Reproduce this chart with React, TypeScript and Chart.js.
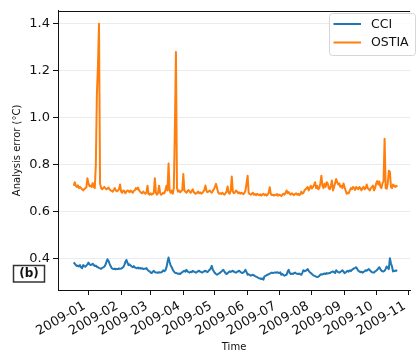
import React, { useEffect, useRef } from 'react';
import { Chart, registerables } from 'chart.js';

Chart.register(...registerables);

// Day offsets relative to 2009-01-01; first sample is 2008-12-18
const FIRST_DAY = -14;

const cciValues = [
  0.384, 0.378, 0.372, 0.368, 0.37, 0.366, 0.372, 0.362, 0.359, 0.372,
  0.368, 0.365, 0.37, 0.375, 0.383, 0.376, 0.372, 0.374, 0.378, 0.372,
  0.368, 0.37, 0.365, 0.363, 0.36, 0.358, 0.356, 0.36, 0.362, 0.365,
  0.372, 0.385, 0.397, 0.39, 0.378, 0.368, 0.36, 0.356, 0.355, 0.357,
  0.354, 0.356, 0.355, 0.358, 0.356, 0.357, 0.36, 0.363, 0.372, 0.385,
  0.394, 0.383, 0.372, 0.375, 0.37, 0.366, 0.363, 0.368, 0.362, 0.36,
  0.359, 0.362, 0.358, 0.36, 0.357, 0.359, 0.355, 0.357, 0.356, 0.359,
  0.352, 0.348, 0.345, 0.34, 0.338, 0.344, 0.348, 0.342, 0.34, 0.341,
  0.339, 0.342, 0.34, 0.341, 0.344, 0.35, 0.346, 0.35, 0.362, 0.385,
  0.404, 0.385, 0.37, 0.363, 0.352, 0.345, 0.34, 0.338, 0.337, 0.335,
  0.336, 0.334, 0.338, 0.342, 0.345, 0.348, 0.344, 0.352, 0.345, 0.342,
  0.34, 0.344, 0.342, 0.348, 0.344, 0.342, 0.34, 0.343, 0.346, 0.348,
  0.344, 0.342, 0.34, 0.344, 0.346, 0.348, 0.344, 0.342, 0.348, 0.352,
  0.358, 0.369, 0.352, 0.345, 0.338, 0.334, 0.331, 0.334, 0.337, 0.34,
  0.344, 0.348, 0.352, 0.345, 0.338, 0.334, 0.337, 0.342, 0.345, 0.343,
  0.346, 0.348, 0.344, 0.341, 0.34, 0.343, 0.346, 0.348, 0.344, 0.34,
  0.338, 0.341, 0.345, 0.352, 0.342, 0.331, 0.333, 0.33, 0.327, 0.329,
  0.331, 0.328, 0.325, 0.323, 0.321, 0.318, 0.316, 0.315, 0.313, 0.315,
  0.31, 0.324, 0.326, 0.329, 0.331, 0.333, 0.336, 0.338, 0.34, 0.338,
  0.34, 0.341, 0.339, 0.342, 0.34, 0.338, 0.341, 0.331, 0.334, 0.33,
  0.327, 0.33, 0.331, 0.345, 0.352, 0.338, 0.334, 0.336, 0.334, 0.338,
  0.34, 0.337, 0.335, 0.334, 0.336, 0.333, 0.331, 0.34, 0.35, 0.346,
  0.348, 0.35, 0.355, 0.348, 0.342, 0.338, 0.334, 0.33, 0.327, 0.325,
  0.323, 0.321, 0.322, 0.326, 0.331, 0.333, 0.332, 0.335, 0.336, 0.334,
  0.338, 0.336, 0.337, 0.338, 0.341, 0.343, 0.345, 0.342, 0.338, 0.35,
  0.345, 0.342, 0.34, 0.343, 0.346, 0.35, 0.344, 0.338, 0.341, 0.345,
  0.348, 0.344, 0.35, 0.347, 0.352, 0.355, 0.358, 0.36, 0.363, 0.356,
  0.348, 0.345, 0.342, 0.344, 0.34, 0.343, 0.346, 0.35, 0.348, 0.352,
  0.355, 0.35, 0.345, 0.342, 0.34, 0.34, 0.345, 0.348, 0.352, 0.358,
  0.363, 0.355, 0.348, 0.346, 0.345, 0.348, 0.356, 0.366, 0.36, 0.355,
  0.401, 0.38, 0.366, 0.345, 0.347, 0.348, 0.349, 0.348,
];

const ostiaValues = [
  0.71, 0.725, 0.71, 0.705, 0.712, 0.70, 0.705, 0.70, 0.695, 0.69,
  0.695, 0.70, 0.702, 0.742, 0.72, 0.708, 0.71, 0.705, 0.722, 0.705,
  0.70, 0.80, 1.10, 1.22, 1.40, 0.72, 0.70, 0.695, 0.70, 0.705,
  0.70, 0.695, 0.698, 0.702, 0.695, 0.69, 0.688, 0.685, 0.692, 0.70,
  0.69, 0.686, 0.69, 0.695, 0.715, 0.685, 0.68, 0.69, 0.688, 0.678,
  0.685, 0.69, 0.688, 0.682, 0.69, 0.686, 0.68, 0.688, 0.69, 0.70,
  0.695, 0.702, 0.69, 0.685, 0.68, 0.678, 0.685, 0.68, 0.676, 0.68,
  0.71, 0.675, 0.672, 0.678, 0.672, 0.675, 0.68, 0.742, 0.68, 0.672,
  0.678, 0.71, 0.68, 0.672, 0.675, 0.68, 0.678, 0.69, 0.71, 0.69,
  0.805, 0.69, 0.68, 0.69, 0.676, 0.70, 0.95, 1.28, 0.70, 0.685,
  0.69, 0.682, 0.688, 0.69, 0.76, 0.69, 0.684, 0.68, 0.688, 0.692,
  0.685, 0.68, 0.688, 0.695, 0.682, 0.678, 0.676, 0.68, 0.685, 0.678,
  0.682, 0.676, 0.68, 0.685, 0.692, 0.711, 0.688, 0.682, 0.686, 0.69,
  0.684, 0.68, 0.688, 0.695, 0.705, 0.718, 0.70, 0.682, 0.676, 0.678,
  0.675, 0.68, 0.676, 0.672, 0.678, 0.685, 0.707, 0.68, 0.676, 0.69,
  0.749, 0.685, 0.678, 0.682, 0.69, 0.685, 0.678, 0.682, 0.676, 0.68,
  0.678, 0.674, 0.68, 0.69, 0.72, 0.753, 0.68, 0.675, 0.672, 0.676,
  0.68, 0.672, 0.675, 0.67, 0.676, 0.672, 0.67, 0.674, 0.668, 0.672,
  0.676, 0.67, 0.674, 0.668, 0.672, 0.68, 0.704, 0.675, 0.67, 0.672,
  0.668, 0.672, 0.67, 0.675, 0.668, 0.672, 0.67, 0.666, 0.672, 0.676,
  0.672, 0.68, 0.69, 0.678, 0.683, 0.676, 0.672, 0.678, 0.674, 0.67,
  0.675, 0.678, 0.672, 0.676, 0.67, 0.674, 0.685, 0.676, 0.68, 0.69,
  0.695, 0.70, 0.705, 0.69, 0.70, 0.71, 0.698, 0.705, 0.712, 0.725,
  0.70, 0.71, 0.695, 0.70, 0.72, 0.753, 0.71, 0.70, 0.718, 0.705,
  0.725, 0.72, 0.70, 0.695, 0.71, 0.732, 0.69, 0.705, 0.72, 0.739,
  0.725, 0.715, 0.72, 0.705, 0.71, 0.70, 0.72, 0.705, 0.69, 0.676,
  0.68, 0.678, 0.69, 0.70, 0.695, 0.705, 0.70, 0.692, 0.705, 0.70,
  0.695, 0.705, 0.70, 0.69, 0.70, 0.705, 0.695, 0.70, 0.715, 0.70,
  0.695, 0.69, 0.70, 0.705, 0.711, 0.69, 0.70, 0.72, 0.73, 0.715,
  0.728, 0.705, 0.70, 0.72, 0.73, 0.91, 0.70, 0.697, 0.72, 0.774,
  0.77, 0.705, 0.70, 0.715, 0.71, 0.705, 0.71, 0.705,
];

const seriesNames = ['CCI', 'OSTIA'];
const seriesColors = ['#1f77b4', '#ff7f0e'];

const monthTickDays = [0, 31, 59, 90, 120, 151, 181, 212, 243, 273, 304];
const monthTickLabels = [
  '2009-01', '2009-02', '2009-03', '2009-04', '2009-05', '2009-06',
  '2009-07', '2009-08', '2009-09', '2009-10', '2009-11',
];
const yTickValues = [0.4, 0.6, 0.8, 1.0, 1.2, 1.4];

const X_MIN = -28.9;
const X_MAX = 305.2;
const Y_MIN = 0.266;
const Y_MAX = 1.455;

const FONT = "'DejaVu Sans', sans-serif";
const TEXT = '#111';

const overlayPlugin = {
  id: 'overlay',
  afterDraw(chart: any) {
    const { ctx, chartArea: ca } = chart;
    ctx.save();
    // top spine
    ctx.strokeStyle = TEXT;
    ctx.lineWidth = 1;
    ctx.beginPath();
    ctx.moveTo(ca.left, Math.round(ca.top) + 0.5);
    ctx.lineTo(ca.right, Math.round(ca.top) + 0.5);
    ctx.stroke();

    // legend
    const bx = 329.5, by = 13.5, bw = 86, bh = 42, r = 3;
    ctx.beginPath();
    ctx.moveTo(bx + r, by);
    ctx.lineTo(bx + bw - r, by);
    ctx.quadraticCurveTo(bx + bw, by, bx + bw, by + r);
    ctx.lineTo(bx + bw, by + bh - r);
    ctx.quadraticCurveTo(bx + bw, by + bh, bx + bw - r, by + bh);
    ctx.lineTo(bx + r, by + bh);
    ctx.quadraticCurveTo(bx, by + bh, bx, by + bh - r);
    ctx.lineTo(bx, by + r);
    ctx.quadraticCurveTo(bx, by, bx + r, by);
    ctx.closePath();
    ctx.fillStyle = 'rgba(255,255,255,0.85)';
    ctx.fill();
    ctx.strokeStyle = '#d6d6d6';
    ctx.lineWidth = 1;
    ctx.stroke();

    const rows = [24, 42.5];
    seriesNames.forEach((name, i) => {
      ctx.strokeStyle = seriesColors[i];
      ctx.lineWidth = 2;
      ctx.beginPath();
      ctx.moveTo(333.5, rows[i]);
      ctx.lineTo(361, rows[i]);
      ctx.stroke();
      ctx.fillStyle = TEXT;
      ctx.font = `12.5px ${FONT}`;
      ctx.textAlign = 'left';
      ctx.textBaseline = 'middle';
      ctx.fillText(name, 371, rows[i] + 0.5);
    });

    // panel label
    ctx.fillStyle = '#fff';
    ctx.fillRect(13.5, 265.5, 31, 16.5);
    ctx.strokeStyle = '#333';
    ctx.lineWidth = 1.5;
    ctx.strokeRect(13.5, 265.5, 31, 16.5);
    ctx.fillStyle = '#111';
    ctx.font = `bold 12px ${FONT}`;
    ctx.textAlign = 'center';
    ctx.textBaseline = 'middle';
    ctx.fillText('(b)', 29, 274);
    ctx.restore();
  },
};

export default function App() {
  const canvasRef = useRef<HTMLCanvasElement | null>(null);

  useEffect(() => {
    if (!canvasRef.current) return;
    const toPoints = (vals: number[]) => vals.map((v, i) => ({ x: FIRST_DAY + i, y: v }));
    const chart = new Chart(canvasRef.current, {
      type: 'line',
      data: {
        datasets: [
          {
            label: seriesNames[0],
            data: toPoints(cciValues),
            borderColor: seriesColors[0],
            backgroundColor: seriesColors[0],
            borderWidth: 2,
            pointRadius: 0,
            tension: 0,
            fill: false,
            borderJoinStyle: 'round',
          },
          {
            label: seriesNames[1],
            data: toPoints(ostiaValues),
            borderColor: seriesColors[1],
            backgroundColor: seriesColors[1],
            borderWidth: 2,
            pointRadius: 0,
            tension: 0,
            fill: false,
            borderJoinStyle: 'round',
          },
        ],
      },
      options: {
        animation: false,
        responsive: false,
        maintainAspectRatio: false,
        devicePixelRatio: 1,
        layout: { padding: { top: 7, left: 0, right: 0, bottom: 0 } },
        plugins: { legend: { display: false }, tooltip: { enabled: false } },
        scales: {
          x: {
            type: 'linear',
            min: X_MIN,
            max: X_MAX,
            afterBuildTicks: (s: any) => {
              s.ticks = monthTickDays.map((v) => ({ value: v }));
            },
            afterFit: (s: any) => {
              s.height = 62;
            },
            ticks: {
              autoSkip: false,
              maxRotation: 30,
              minRotation: 30,
              padding: 4,
              labelOffset: -4,
              color: TEXT,
              font: { family: FONT, size: 13, lineHeight: 1.1 },
              callback: (v: any) => {
                const idx = monthTickDays.indexOf(Number(v));
                return idx >= 0 ? monthTickLabels[idx] : '';
              },
            },
            grid: { drawOnChartArea: false, drawTicks: true, tickLength: 5, tickColor: TEXT },
            border: { display: true, color: TEXT, width: 1 },
            title: {
              display: true,
              text: 'Time',
              color: TEXT,
              font: { family: FONT, size: 10, lineHeight: 1 },
              padding: { top: 0, bottom: 0 },
            },
          },
          y: {
            type: 'linear',
            min: Y_MIN,
            max: Y_MAX,
            afterBuildTicks: (s: any) => {
              s.ticks = yTickValues.map((v) => ({ value: v }));
            },
            afterFit: (s: any) => {
              s.width = 58;
            },
            ticks: {
              padding: 3,
              color: TEXT,
              font: { family: FONT, size: 13 },
              callback: (v: any) => Number(v).toFixed(1),
            },
            grid: { color: '#ebebeb', lineWidth: 1, tickColor: TEXT, tickLength: 5 },
            border: { display: true, color: TEXT, width: 1 },
            title: {
              display: true,
              text: 'Analysis error (°C)',
              color: TEXT,
              font: { family: FONT, size: 10, lineHeight: 1 },
              padding: { top: 12, bottom: 0 },
            },
          },
        },
      },
      plugins: [overlayPlugin],
    } as any);
    return () => chart.destroy();
  }, []);

  return (
    <div style={{ position: 'absolute', left: 0, top: 0, width: 420, height: 352, overflow: 'hidden', background: '#fff' }}>
      <canvas ref={canvasRef} width={420} height={352} style={{ width: 420, height: 352, display: 'block' }} />
    </div>
  );
}
